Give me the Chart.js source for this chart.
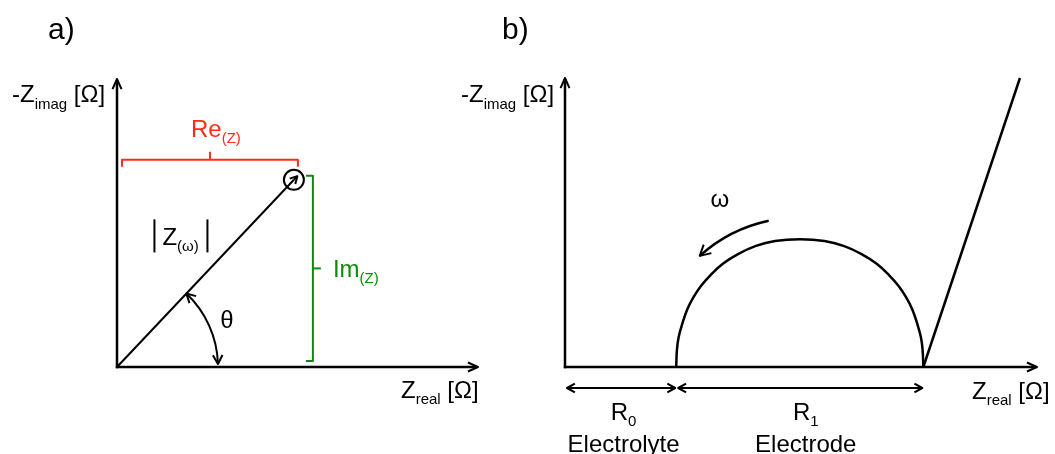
<!DOCTYPE html>
<html>
<head>
<meta charset="utf-8">
<script src="https://cdn.jsdelivr.net/npm/chart.js@4.4.1/dist/chart.umd.min.js"></script>
<style>
  html, body { margin: 0; padding: 0; background: #fff; }
  #wrap { position: relative; width: 1055px; height: 454px; overflow: hidden; }
  canvas { position: absolute; top: 0; }
  #cA { left: 0; }
  #cB { left: 455px; }
</style>
</head>
<body>
<div id="wrap">
  <canvas id="cA" width="490" height="454"></canvas>
  <canvas id="cB" width="600" height="454"></canvas>
</div>
<script>
// ── Data: a) impedance phasor ─────────────────────────────────────
const reZ = 4.9;
const imZ = 5.2;
const phasorRe = [0, reZ];
const phasorIm = [0, imZ];

// ── Data: b) Nyquist plot ─────────────────────────────────────────
const R0 = 45;
const R1 = 100;
const arcRe = [45, 45.3, 46, 47.5, 49.5, 52, 55, 59, 64, 70, 77, 85, 95,
               105, 113, 120, 126, 131, 135, 138, 140.5, 142.5, 144, 144.7, 145];
const arcIm = [0, 7, 12, 17.5, 23.2, 28, 32.5, 37, 41.5, 45.3, 48.5, 50.6, 51.3,
               50.6, 48.5, 45.3, 41.5, 37, 32.5, 28, 23.2, 17.5, 12, 7, 0];
const tailRe = [145, 184.1];
const tailIm = [0, 116];

const FONT = '"Liberation Sans", Arial, sans-serif';
const RED = '#ff2a17';
const GREEN = '#0b8c0b';
const MAIN = 24;
const SUB = 15;

const pts = (xs, ys) => xs.map((v, i) => ({ x: v, y: ys[i] }));

// ── Drawing helpers ───────────────────────────────────────────────
function seg(ctx, x1, y1, x2, y2) {
  ctx.beginPath(); ctx.moveTo(x1, y1); ctx.lineTo(x2, y2); ctx.stroke();
}

function arrowHead(ctx, x, y, ang, len = 11, spread = 0.42) {
  ctx.beginPath();
  ctx.moveTo(x + len * Math.cos(ang + Math.PI - spread), y + len * Math.sin(ang + Math.PI - spread));
  ctx.lineTo(x, y);
  ctx.lineTo(x + len * Math.cos(ang + Math.PI + spread), y + len * Math.sin(ang + Math.PI + spread));
  ctx.stroke();
}

function label(ctx, x, y, main, sub = '', tail = '', align = 'left', color = '#000', drop = 6) {
  ctx.fillStyle = color;
  ctx.textAlign = 'left';
  ctx.textBaseline = 'alphabetic';
  ctx.font = MAIN + 'px ' + FONT;
  const w1 = ctx.measureText(main).width;
  const w3 = ctx.measureText(tail).width;
  ctx.font = SUB + 'px ' + FONT;
  const w2 = ctx.measureText(sub).width;
  const sx = align === 'center' ? x - (w1 + w2 + w3) / 2 : x;
  ctx.font = MAIN + 'px ' + FONT; ctx.fillText(main, sx, y);
  ctx.font = SUB + 'px ' + FONT; ctx.fillText(sub, sx + w1, y + drop);
  ctx.font = MAIN + 'px ' + FONT; ctx.fillText(tail, sx + w1 + w2, y);
}

function drawAxes(chart) {
  const { ctx, chartArea: a, scales: { x, y } } = chart;
  const ox = x.getPixelForValue(0), oy = y.getPixelForValue(0);
  ctx.save();
  ctx.strokeStyle = '#000';
  ctx.lineJoin = 'round';
  ctx.lineWidth = 2.5;
  seg(ctx, ox, oy + 1.2, ox, a.top + 1);
  seg(ctx, ox - 1.2, oy, a.right - 1, oy);
  ctx.lineWidth = 2;
  arrowHead(ctx, ox, a.top, -Math.PI / 2);
  arrowHead(ctx, a.right, oy, 0);
  ctx.restore();
}

// ── Panel a) annotations ──────────────────────────────────────────
const phasorPlugin = {
  id: 'phasor',
  afterDatasetsDraw(chart) {
    const { ctx, chartArea: a, scales: { x, y } } = chart;
    const ox = x.getPixelForValue(0), oy = y.getPixelForValue(0);
    const px = x.getPixelForValue(reZ), py = y.getPixelForValue(imZ);
    const ang = Math.atan2(py - oy, px - ox);
    drawAxes(chart);

    ctx.save();
    ctx.lineJoin = 'round';
    ctx.strokeStyle = '#000';
    ctx.lineWidth = 2;
    // arrow tip inside the circle
    const tx = px + 5 * Math.cos(ang), ty = py + 5 * Math.sin(ang);
    seg(ctx, px, py, tx, ty);
    arrowHead(ctx, tx, ty, ang, 8, 0.5);

    // theta arc
    const r = 101, e = -0.03;
    ctx.beginPath(); ctx.arc(ox, oy, r, ang, e); ctx.stroke();
    arrowHead(ctx, ox + r * Math.cos(ang), oy + r * Math.sin(ang), ang - Math.PI / 2, 10, 0.5);
    arrowHead(ctx, ox + r * Math.cos(e), oy + r * Math.sin(e), e + Math.PI / 2, 10, 0.5);

    // Re bracket
    ctx.strokeStyle = RED;
    const by = py - 20, bl = ox + 5, br = px + 4, bm = (bl + br) / 2;
    ctx.beginPath();
    ctx.moveTo(bl, by + 7); ctx.lineTo(bl, by); ctx.lineTo(br, by); ctx.lineTo(br, by + 7);
    ctx.stroke();
    seg(ctx, bm, by, bm, by - 8);

    // Im bracket
    ctx.strokeStyle = GREEN;
    const gx = px + 19, gt = py - 4, gb = oy - 6, gm = (gt + gb) / 2;
    ctx.beginPath();
    ctx.moveTo(gx - 7, gt); ctx.lineTo(gx, gt); ctx.lineTo(gx, gb); ctx.lineTo(gx - 7, gb);
    ctx.stroke();
    seg(ctx, gx, gm, gx + 8, gm);

    // |Z(w)| bars
    const mx = (ox + px) / 2, my = (oy + py) / 2;
    ctx.strokeStyle = '#000';
    seg(ctx, mx - 51, my - 54, mx - 51, my - 21);
    seg(ctx, mx + 2, my - 54, mx + 2, my - 21);

    // texts
    label(ctx, bm + 6, by - 23, 'Re', '(Z)', '', 'center', RED);
    label(ctx, gx + 20, gm + 9, 'Im', '(Z)', '', 'left', GREEN);
    label(ctx, mx - 43, my - 28, 'Z', '(ω)');
    label(ctx, ox + 110, oy - 39, 'θ', '', '', 'center');
    label(ctx, ox - 105, a.top + 23, '-Z', 'imag', ' [Ω]', 'left', '#000', 7);
    label(ctx, a.right - 77, oy + 31, 'Z', 'real', ' [Ω]');
    ctx.font = '30px ' + FONT;
    ctx.fillStyle = '#000';
    ctx.fillText('a)', 48, 39);
    ctx.restore();
  },
};

// ── Panel b) annotations ──────────────────────────────────────────
const nyquistPlugin = {
  id: 'nyquist',
  afterDatasetsDraw(chart) {
    const { ctx, chartArea: a, scales: { x, y } } = chart;
    const ox = x.getPixelForValue(0), oy = y.getPixelForValue(0);
    const p0 = x.getPixelForValue(R0), p1 = x.getPixelForValue(R0 + R1);
    const cx = x.getPixelForValue(R0 + R1 / 2);
    drawAxes(chart);

    ctx.save();
    ctx.lineJoin = 'round';
    ctx.strokeStyle = '#000';

    // omega arrow
    const rr = (p1 - p0) / 2 * 1.21;
    const a1 = -102 * Math.PI / 180, a2 = -132 * Math.PI / 180;
    ctx.lineWidth = 2.5;
    ctx.beginPath(); ctx.arc(cx, oy, rr, a1, a2, true); ctx.stroke();
    ctx.lineWidth = 2;
    arrowHead(ctx, cx + rr * Math.cos(a2), oy + rr * Math.sin(a2), a2 - Math.PI / 2, 12, 0.5);

    // resistance spans
    const ay = oy + 21;
    seg(ctx, ox + 2, ay, p0 - 1, ay);
    arrowHead(ctx, ox + 2, ay, Math.PI, 9, 0.5);
    arrowHead(ctx, p0 - 1, ay, 0, 9, 0.5);
    seg(ctx, p0 + 2, ay, p1 - 1, ay);
    arrowHead(ctx, p0 + 2, ay, Math.PI, 9, 0.5);
    arrowHead(ctx, p1 - 1, ay, 0, 9, 0.5);

    // texts
    label(ctx, cx - 80, oy - 160, 'ω', '', '', 'center');
    label(ctx, (ox + p0) / 2 + 3, oy + 53, 'R', '0', '', 'center');
    label(ctx, (ox + p0) / 2 + 3, oy + 85, 'Electrolyte', '', '', 'center');
    label(ctx, (p0 + p1) / 2 + 6, oy + 53, 'R', '1', '', 'center');
    label(ctx, (p0 + p1) / 2 + 6, oy + 85, 'Electrode', '', '', 'center');
    label(ctx, ox - 104, a.top + 24, '-Z', 'imag', ' [Ω]', 'left', '#000', 7);
    label(ctx, a.right - 65, oy + 32, 'Z', 'real', ' [Ω]');
    ctx.font = '30px ' + FONT;
    ctx.fillStyle = '#000';
    ctx.fillText('b)', 47, 39);
    ctx.restore();
  },
};

// ── Shared options ────────────────────────────────────────────────
function baseOptions(xMax, yMax, padding) {
  return {
    responsive: false,
    animation: false,
    devicePixelRatio: 1,
    events: [],
    layout: { padding },
    plugins: { legend: { display: false }, tooltip: { enabled: false } },
    scales: {
      x: { type: 'linear', min: 0, max: xMax, display: false },
      y: { type: 'linear', min: 0, max: yMax, display: false },
    },
  };
}

// ── Chart a) ──────────────────────────────────────────────────────
new Chart(document.getElementById('cA'), {
  type: 'scatter',
  data: {
    datasets: [
      { data: pts(phasorRe, phasorIm), showLine: true, borderColor: '#000', borderWidth: 2, pointRadius: 0, clip: false },
      { data: pts([reZ], [imZ]), showLine: false, pointRadius: 10, pointStyle: 'circle',
        pointBackgroundColor: 'rgba(0,0,0,0)', pointBorderColor: '#000', pointBorderWidth: 2, clip: false },
    ],
  },
  options: baseOptions(10, 8, { left: 117, right: 6, top: 79, bottom: 87 }),
  plugins: [phasorPlugin],
});

// ── Chart b) ──────────────────────────────────────────────────────
new Chart(document.getElementById('cB'), {
  type: 'scatter',
  data: {
    datasets: [
      { data: pts(arcRe, arcIm), showLine: true, tension: 0.4, borderColor: '#000', borderWidth: 2.5, pointRadius: 0, clip: false },
      { data: pts(tailRe, tailIm), showLine: true, borderColor: '#000', borderWidth: 2.5, pointRadius: 0, clip: false },
    ],
  },
  options: baseOptions(191, 116, { left: 110, right: 18, top: 78, bottom: 87 }),
  plugins: [nyquistPlugin],
});
</script>
</body>
</html>
